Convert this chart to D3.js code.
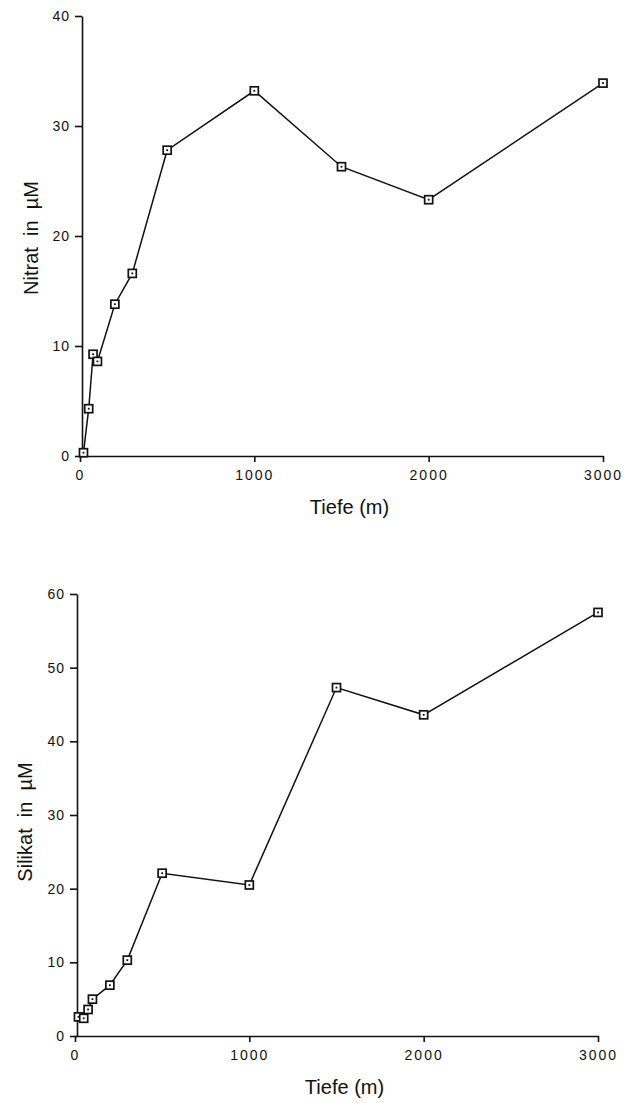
<!DOCTYPE html>
<html>
<head>
<meta charset="utf-8">
<script src="https://cdn.jsdelivr.net/npm/d3@7"></script>
<style>
  body { margin: 0; background: #fff; }
  svg { font-family: "Liberation Sans", Arial, sans-serif; }
  .tick text { font-size: 14px; fill: #111; }
  .xaxis .tick text { letter-spacing: 2px; }
  .yaxis .tick text { letter-spacing: 1px; }
  .axis path, .axis line { stroke: #111; stroke-width: 1.6; }
  .title { font-size: 20px; fill: #111; }
  .line { fill: none; stroke: #111; stroke-width: 1.5; }
</style>
</head>
<body>
<div id="chart"></div>
<script>
// depths (m)
var depths = [20, 50, 75, 100, 200, 300, 500, 1000, 1500, 2000, 3000];
// nitrate (uM)
var nitrat = [0.3, 4.3, 9.25, 8.6, 13.8, 16.6, 27.8, 33.2, 26.3, 23.3, 33.9];
// silicate (uM)
var silikat = [2.6, 2.4, 3.6, 5.0, 6.9, 10.3, 22.1, 20.5, 47.3, 43.6, 57.5];

var xTicks = [0, 1000, 2000, 3000];
var nitratTicks = [0, 10, 20, 30, 40];
var silikatTicks = [0, 10, 20, 30, 40, 50, 60];

var svg = d3.select("#chart").append("svg")
    .attr("width", 625)
    .attr("height", 1103);

function plotPanel(options) {
  var x = d3.scaleLinear().domain([0, 3000]).range(options.xRange);
  var y = d3.scaleLinear().domain(options.yDomain).range(options.yRange);

  var g = svg.append("g");

  // x axis
  g.append("g")
      .attr("class", "axis xaxis")
      .attr("transform", "translate(0," + options.yRange[0] + ")")
      .call(d3.axisBottom(x).tickValues(xTicks).tickFormat(d3.format("d"))
        .tickSize(6).tickSizeOuter(0).tickPadding(8));

  // y axis
  g.append("g")
      .attr("class", "axis yaxis")
      .attr("transform", "translate(" + (options.xRange[0] + 2) + ",0)")
      .call(d3.axisLeft(y).tickValues(options.yTicks)
        .tickSize(7).tickSizeOuter(0).tickPadding(5));

  g.selectAll(".tick text").attr("font-family", null).attr("font-size", null);

  // axis titles
  g.append("text")
      .attr("class", "title")
      .attr("x", (options.xRange[0] + options.xRange[1]) / 2 + 8)
      .attr("y", options.yRange[0] + 58)
      .attr("text-anchor", "middle")
      .text("Tiefe (m)");

  g.append("text")
      .attr("class", "title")
      .attr("transform", "translate(" + options.labelX + "," + options.labelY + ") rotate(-90)")
      .attr("text-anchor", "middle")
      .attr("xml:space", "preserve")
      .text(options.label);

  var data = depths.map(function(d, i) { return [d, options.values[i]]; });

  var line = d3.line()
      .x(function(d) { return x(d[0]); })
      .y(function(d) { return y(d[1]); });

  g.append("path")
      .datum(data)
      .attr("class", "line")
      .attr("d", line);

  var pts = g.selectAll(".pt").data(data).enter().append("g")
      .attr("transform", function(d) { return "translate(" + x(d[0]) + "," + y(d[1]) + ")"; });

  pts.append("rect")
      .attr("x", -4).attr("y", -4)
      .attr("width", 8).attr("height", 8)
      .attr("fill", "#fff")
      .attr("stroke", "#111")
      .attr("stroke-width", 1.7);

  pts.append("rect")
      .attr("x", -0.9).attr("y", -0.9)
      .attr("width", 1.8).attr("height", 1.8)
      .attr("fill", "#111");
}

plotPanel({
  values: nitrat,
  yDomain: [0, 40],
  yTicks: nitratTicks,
  xRange: [80, 603],
  yRange: [456, 16],
  label: "Nitrat  in  µM",
  labelX: 38,
  labelY: 238
});

plotPanel({
  values: silikat,
  yDomain: [0, 60],
  yTicks: silikatTicks,
  xRange: [75, 598],
  yRange: [1036, 594],
  label: "Silikat  in  µM",
  labelX: 32,
  labelY: 822
});
</script>
</body>
</html>
